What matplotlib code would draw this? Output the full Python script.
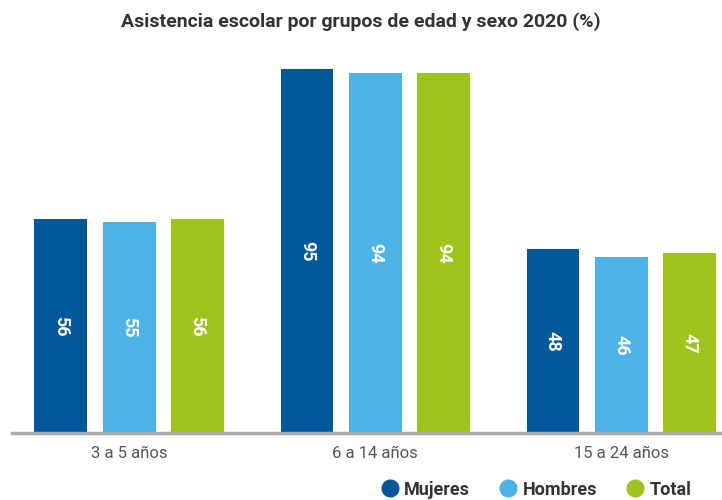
import matplotlib.pyplot as plt
import numpy as np

grupos = ['3 a 5 años', '6 a 14 años', '15 a 24 años']
series = ['Mujeres', 'Hombres', 'Total']
mujeres = [56, 95, 48]
hombres = [55, 94, 46]
total = [56, 94, 47]
colores = ['#00589b', '#4db3e6', '#9dc41a']

plt.rcParams['font.family'] = ['Roboto', 'DejaVu Sans']

fig = plt.figure(figsize=(7.22, 5.0), dpi=100)
ax = fig.add_axes([0.0166, 0.134, 0.9834, 0.766])

x = np.arange(len(grupos))
ancho = 0.215
paso = 0.277
for i, (nombre, vals) in enumerate(zip(series, [mujeres, hombres, total])):
    pos = x + (i - 1) * paso
    bars = ax.bar(pos, vals, ancho, color=colores[i], label=nombre, zorder=2)
    for b, v in zip(bars, vals):
        ax.text(b.get_x() + b.get_width() / 2, v * 0.5, str(v), rotation=-90,
                ha='center', va='center', color='white', fontsize=13, fontweight='bold')

ax.set_xlim(-0.476, 2.41)
ax.set_ylim(0, 100)
ax.set_yticks([])
ax.set_xticks(x)
ax.set_xticklabels(grupos, fontsize=12, color='#555555')
ax.tick_params(axis='x', length=0, pad=9)
for s in ['top', 'right', 'left']:
    ax.spines[s].set_visible(False)
ax.spines['bottom'].set_color('#aaaaaa')
ax.spines['bottom'].set_linewidth(2.5)

fig.suptitle('Asistencia escolar por grupos de edad y sexo 2020 (%)', y=0.975,
             fontsize=14, fontweight='bold', color='#333333')

handles = [plt.Line2D([], [], marker='o', linestyle='', markersize=12, color=c) for c in colores]
fig.legend(handles, series, loc='lower right', bbox_to_anchor=(0.98, -0.03), ncol=3,
           frameon=False, handletextpad=0.2, columnspacing=1.5, handlelength=1.2,
           prop={'size': 13, 'weight': 'bold'}, labelcolor='#333333')

fig.savefig('out.png', dpi=100)
